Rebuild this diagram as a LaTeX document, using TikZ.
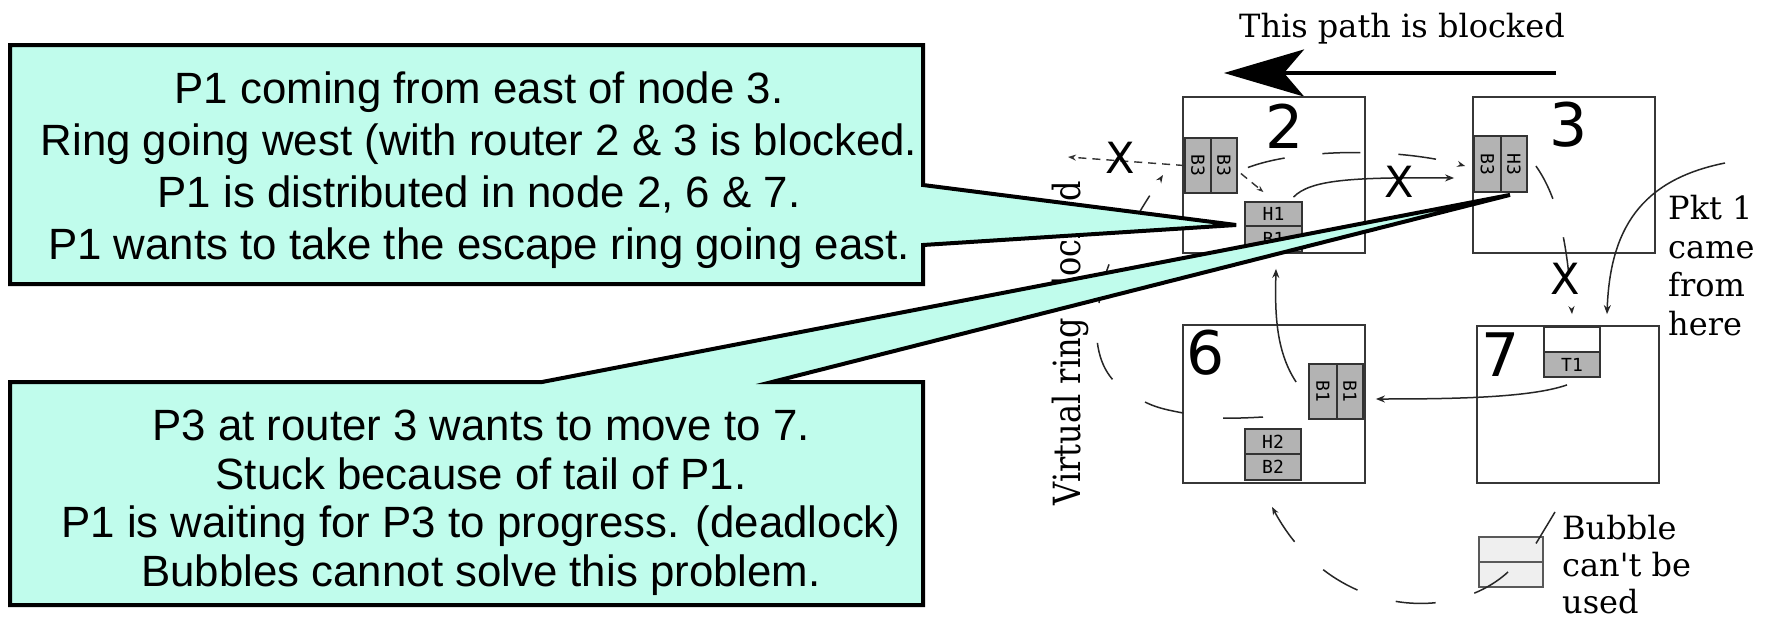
\documentclass[tikz,border=0pt]{standalone}
\usepackage{fontspec}
\setmainfont{DejaVu Serif}
\newfontfamily\calloutfont{Liberation Sans}
\newfontfamily\numfont{DejaVu Sans}
\newfontfamily\cellfont{DejaVu Sans Mono}
\usetikzlibrary{arrows.meta}
\definecolor{calloutfill}{RGB}{192,252,236}
\definecolor{cellgray}{RGB}{179,179,179}
\definecolor{bubblefill}{RGB}{239,239,239}
\definecolor{frame}{RGB}{55,55,55}
% a straight apostrophe, kept out of the TeX ligature mapping
\newcommand{\straightquote}{{\XeTeXglyph\the\XeTeXcharglyph"27\relax}}
\tikzset{
  router/.style={draw=frame, line width=2.2pt, fill=white, inner sep=0pt},
  pkt/.style={draw=black!80, line width=1.8pt, fill=cellgray, inner sep=0pt,
    font=\cellfont\fontsize{18}{18}\selectfont},
  emptycell/.style={pkt, fill=white},
  bubblecell/.style={draw=black!65, line width=1.8pt, fill=bubblefill, inner sep=0pt},
  routerid/.style={font=\numfont\fontsize{60}{60}\selectfont, inner sep=0pt},
  blockmark/.style={font=\numfont\fontsize{43}{43}\selectfont, inner sep=0pt},
  note/.style={font=\fontsize{32}{38.5}\selectfont, inner sep=0pt, align=left},
  flow/.style={line width=1.5pt, draw=black!85, -{Stealth[length=9pt,width=7pt]}},
  ring/.style={line width=1.5pt, draw=black!85, dash pattern=on 40pt off 40pt},
  shortdash/.style={line width=1.4pt, draw=black!80, dash pattern=on 8pt off 6pt},
  callout/.style={draw=black, line width=4pt, fill=calloutfill, line join=miter},
  callouttext/.style={font=\calloutfont\fontsize{43.8}{52}\selectfont, align=center, inner sep=0pt},
}
\begin{document}
\begin{tikzpicture}[x=1pt,y=-1pt]
\useasboundingbox (0,0) rectangle (1773,621);
\fill[white] (0,0) rectangle (1773,621);

% blocked westward path
\node[note, anchor=base] (title) at (1402,37) {This path is blocked};
\coordinate (blkstart) at (1556,73);
\coordinate (blkend) at (1224,73);
\draw[line width=4pt, -{Stealth[length=80pt,width=47pt,inset=20pt]}] (blkstart) -- (blkend);

% routers
\node[router, minimum width=182pt, minimum height=156pt] (r2) at (1274,175) {};
\node[router, minimum width=182pt, minimum height=156pt] (r3) at (1564,175) {};
\node[router, minimum width=182pt, minimum height=158pt] (r6) at (1274,404) {};
\node[router, minimum width=182pt, minimum height=157pt] (r7) at (1568,404.5) {};
\node[routerid] (id2) at (1285,126) {2};
\node[routerid] (id3) at (1569,125) {3};
\node[routerid] (id6) at (1206,353) {6};
\node[routerid] (id7) at (1501,355) {7};

% flits in the buffers
\node[pkt, minimum width=26pt, minimum height=55pt] (b3w) at (1198,165.5) {\rotatebox{-90}{B3}};
\node[pkt, minimum width=26pt, minimum height=55pt] (b3e) at (1224,165.5) {\rotatebox{-90}{B3}};
\node[pkt, minimum width=57pt, minimum height=24pt] (h1) at (1273.5,214) {H1};
\node[pkt, minimum width=57pt, minimum height=26pt] (b1) at (1273.5,239) {B1};
\node[pkt, minimum width=27pt, minimum height=56pt] (b3r) at (1487.5,164) {\rotatebox{-90}{B3}};
\node[pkt, minimum width=26pt, minimum height=56pt] (h3) at (1514,164) {\rotatebox{-90}{H3}};
\node[pkt, minimum width=28pt, minimum height=55pt] (b1w) at (1323,391.5) {\rotatebox{-90}{B1}};
\node[pkt, minimum width=26pt, minimum height=55pt] (b1e) at (1350,391.5) {\rotatebox{-90}{B1}};
\node[pkt, minimum width=56pt, minimum height=25pt] (h2) at (1273,441.5) {H2};
\node[pkt, minimum width=56pt, minimum height=26pt] (b2) at (1273,467) {B2};
\node[emptycell, minimum width=56pt, minimum height=25pt] (free7) at (1572,339.5) {};
\node[pkt, minimum width=56pt, minimum height=25pt] (t1) at (1572,364.5) {T1};
\node[bubblecell, minimum width=64pt, minimum height=25pt] (bubtop) at (1511,549.5) {};
\node[bubblecell, minimum width=64pt, minimum height=25pt] (bubbot) at (1511,574.5) {};

% movements between routers
\coordinate (westend) at (1068,157);
\draw[shortdash, -{Stealth[length=8pt,width=6pt]}] (b3w.west) -- (westend);
\draw[shortdash, -{Stealth[length=7pt,width=5pt]}] ([shift={(3,8)}]b3e.east) -- ([shift={(-10,-9)}]h1.north);
\draw[ring, dash pattern=on 38pt off 38pt, -{Stealth[length=8pt,width=6pt]}]
  ([shift={(10,2)}]b3e.east) .. controls (1300,148) and (1400,148) .. ([shift={(-8,2)}]b3r.west);
\draw[flow] ([shift={(20,-4)}]h1.north) .. controls (1310,180) and (1350,177) .. ([shift={(-19,14)}]b3r.west);
\draw[ring, dash pattern=on 37pt off 40pt, -{Stealth[length=8pt,width=6pt]}]
  ([shift={(8,2)}]h3.east) .. controls (1560,200) and (1568,250) .. ([shift={(0,-12)}]free7.north);
\coordinate (pktsrc) at (1725,163);
\draw[flow] (pktsrc) .. controls (1640,180) and (1610,230) .. ([shift={(35,-12)}]free7.north);
\draw[flow] ([shift={(-5,7)}]t1.south) .. controls (1530,398) and (1450,399) .. ([shift={(12,7.5)}]b1e.east);
\draw[flow] ([shift={(-12,-9.5)}]b1w.west) .. controls (1275,350) and (1275,310) .. ([shift={(2.5,16)}]b1.south);

% the virtual ring
\draw[ring, -{Stealth[length=8pt,width=6pt]}] plot[smooth, tension=0.6] coordinates
  {(1263,417) (1223,418) (1183,413) (1147,403) (1113,380) (1098,347) (1099,303) (1110,262) (1127,235) (1142,208) (1163,175)};
\draw[ring, -{Stealth[length=8pt,width=6pt]}]
  ([shift={(-3,-2.5)}]bubbot.center) .. controls (1450,625) and (1330,615) .. ([shift={(-1,26)}]b2.south);

% blocked links
\node[blockmark] (xw) at (1120,158) {X};
\node[blockmark] (xe) at (1399,182) {X};
\node[blockmark] (xs) at (1565,279) {X};

% labels (a multi-line node sits on the baseline of its last line)
\node[note, anchor=base west] (pktlbl) at (1668,335) {Pkt 1\\came\\from\\here};
\node[note, anchor=base west, font=\fontsize{32}{37}\selectfont] (bublbl) at (1562,613) {Bubble\\can\straightquote t be\\used};
\draw[line width=1.5pt, draw=black!85] ([shift={(25,-6)}]bubtop.center) -- (1555,512);
\node[note, rotate=90, anchor=base] (ringlbl) at (1080,343) {\scalebox{1}[1.17]{Virtual ring blocked}};

% explanations
\path[callout] (10,45) -- (923,45) -- (923,185) -- ([shift={(-8,11)}]h1.west) -- (923,245) -- (923,284) -- (10,284) -- cycle;
\node[callouttext, anchor=base] (note1) at (479,259) {P1 coming from east of node 3.\\Ring going west (with router 2 \& 3 is blocked.\\P1 is distributed in node 2, 6 \& 7.\\P1 wants to take the escape ring going east.};
\path[callout] (10,382) -- (542,382) -- ([shift={(-4,2)}]h3.south) -- (772,382) -- (923,382) -- (923,605) -- (10,605) -- cycle;
\node[callouttext, anchor=base, font=\calloutfont\fontsize{43.8}{48.5}\selectfont] (note2) at (481,586) {P3 at router 3 wants to move to 7.\\Stuck because of tail of P1.\\P1 is waiting for P3 to progress. (deadlock)\\Bubbles cannot solve this problem.};
\end{tikzpicture}
\end{document}
